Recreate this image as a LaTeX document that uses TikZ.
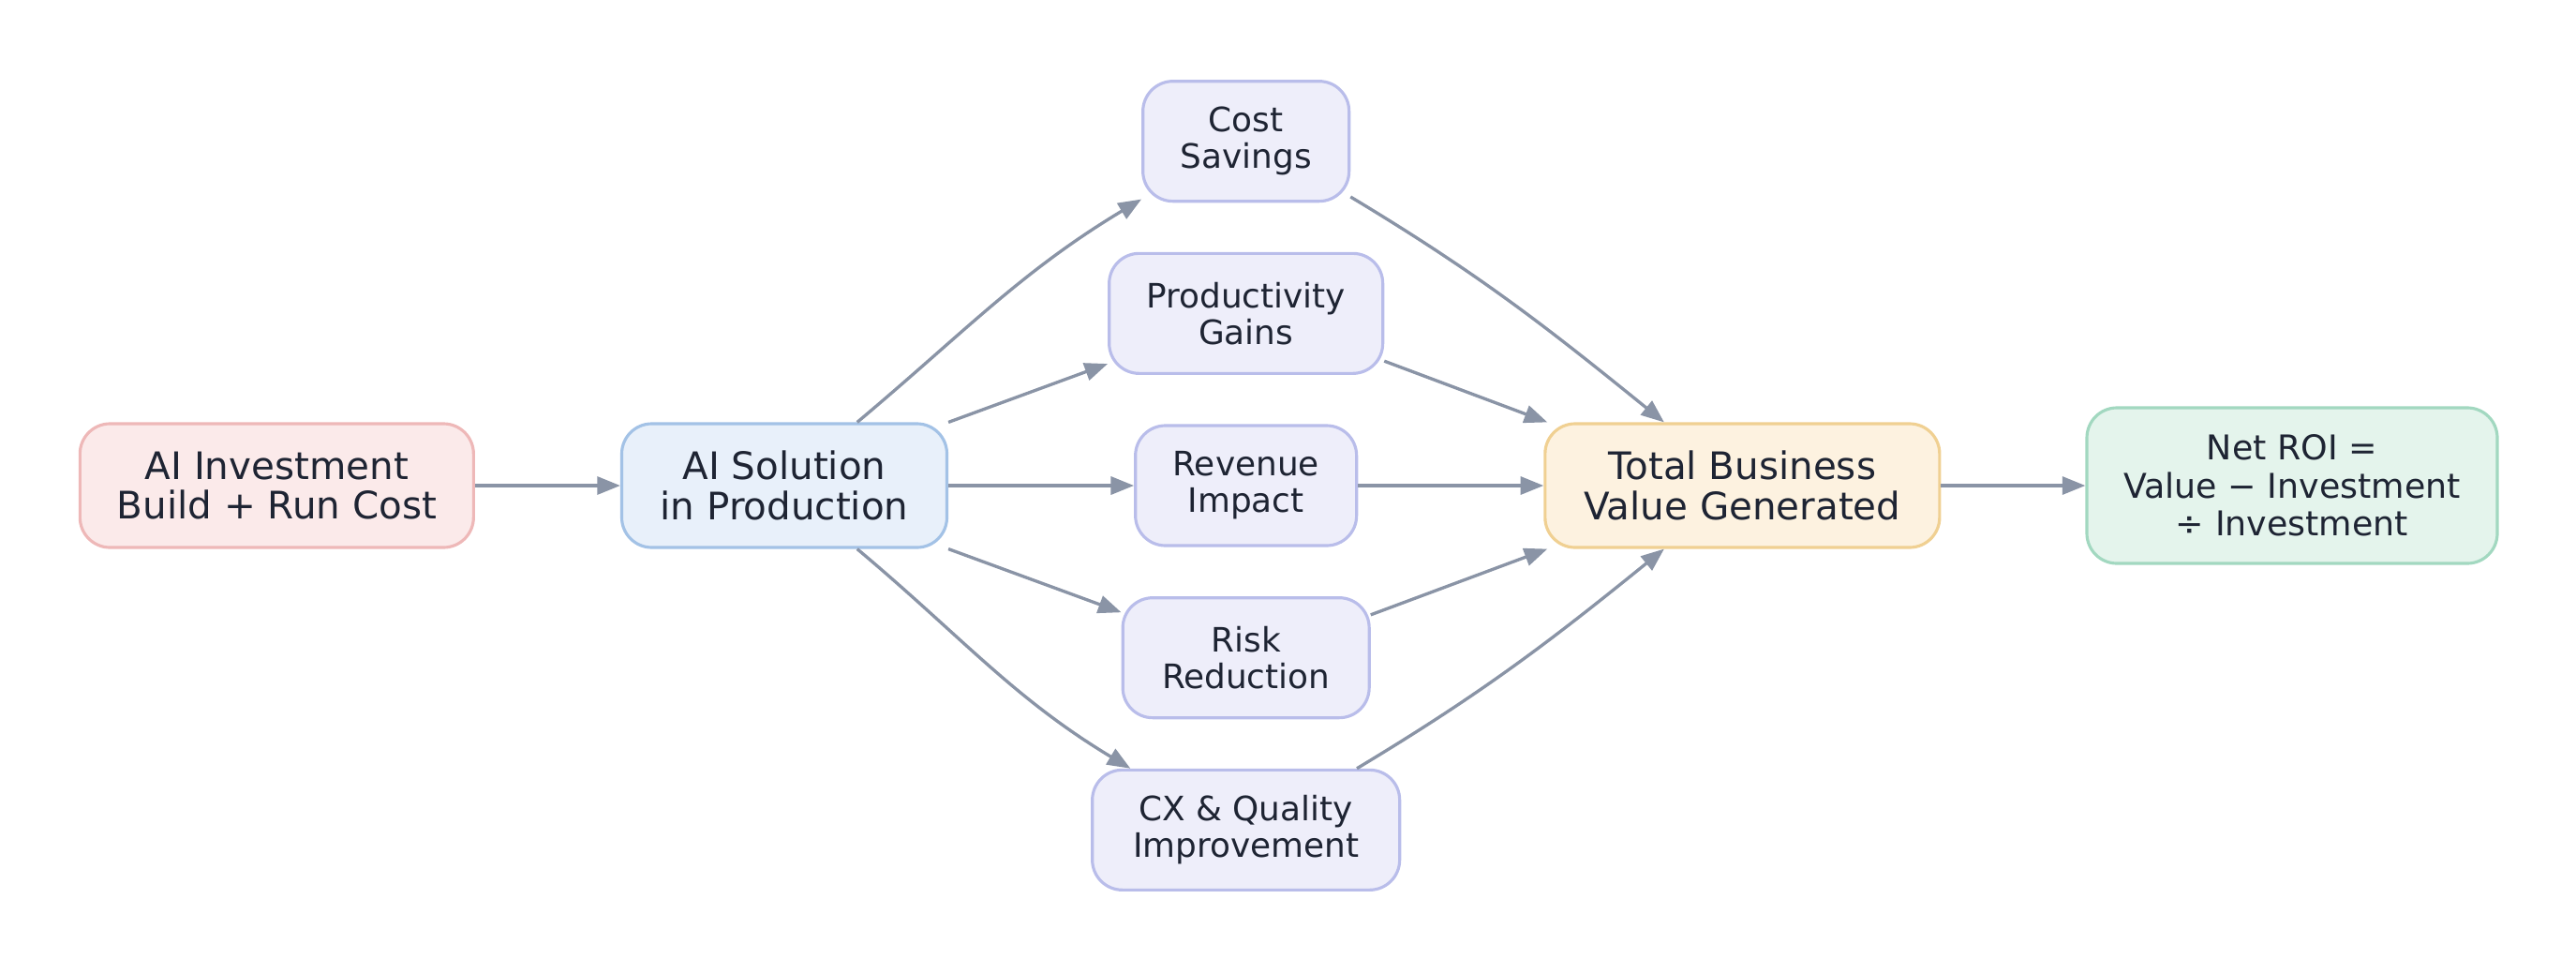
\documentclass[tikz,border=0pt]{standalone}
\usepackage{fontspec}
\setmainfont{DejaVu Sans}
\usepackage{xcolor}
\usepackage{tikz}
\usetikzlibrary{arrows.meta, positioning}

\definecolor{inkc}{HTML}{1E2433}
\definecolor{edgec}{HTML}{8A94A6}
\definecolor{invfill}{HTML}{FBEAEA}
\definecolor{invdraw}{HTML}{EEB8B8}
\definecolor{solfill}{HTML}{E8F0FA}
\definecolor{soldraw}{HTML}{A3C2E6}
\definecolor{gainfill}{HTML}{EEEEFA}
\definecolor{gaindraw}{HTML}{B9BDEA}
\definecolor{totfill}{HTML}{FDF2E0}
\definecolor{totdraw}{HTML}{F0D092}
\definecolor{roifill}{HTML}{E4F4EC}
\definecolor{roidraw}{HTML}{A2D8C0}

\begin{document}
\begin{tikzpicture}[
    node distance=0.525cm and 1.98cm,
    box/.style={draw, line width=0.9pt, rounded corners=0.32cm, align=center, inner sep=0pt, text=inkc},
    bigbox/.style={box, minimum height=1.32cm, font=\fontsize{11.5}{12.2}\selectfont},
    gain/.style={box, fill=gainfill, draw=gaindraw, minimum height=1.28cm, font=\fontsize{10.2}{11.1}\selectfont},
    flow/.style={-{Triangle[length=7pt, width=5.4pt]}, line width=0.95pt, draw=edgec}
]
\useasboundingbox (0,0) rectangle (27.49,10.38);

\node[bigbox, fill=solfill, draw=soldraw, minimum width=3.47cm] (sol) at (8.37,5.20) {AI Solution\\in Production};
\node[bigbox, fill=invfill, draw=invdraw, minimum width=4.2cm, left=1.55cm of sol] (inv) {AI Investment\\Build + Run Cost};

\node[gain, minimum width=2.36cm, right=of sol] (rev) {Revenue\\Impact};
\node[gain, minimum width=2.92cm, above=of rev] (prod) {Productivity\\Gains};
\node[gain, minimum width=2.2cm, above=of prod] (cost) {Cost\\Savings};
\node[gain, minimum width=2.63cm, below=of rev] (risk) {Risk\\Reduction};
\node[gain, minimum width=3.28cm, below=of risk] (cx) {CX \& Quality\\Improvement};

\node[bigbox, fill=totfill, draw=totdraw, minimum width=4.21cm, right=of rev] (tot) {Total Business\\Value Generated};
\node[box, fill=roifill, draw=roidraw, minimum width=4.38cm, minimum height=1.66cm,
      font=\fontsize{10.35}{11.5}\selectfont, right=1.54cm of tot] (roi) {Net ROI =\\Value − Investment\\÷ Investment};

\draw[flow] (inv) -- (sol);

% fan out
\draw[flow] (sol.41) to[out=40, in=211] (cost.209);
\draw[flow] (sol.north east) -- (prod.200);
\draw[flow] (sol) -- (rev);
\draw[flow] (sol.south east) -- (risk.160);
\draw[flow] (sol.-41) to[out=-40, in=149] (cx.152);

% fan in
\draw[flow] (cost.-28) to[out=-31, in=141] (tot.141);
\draw[flow] (prod.-19) -- (tot.162);
\draw[flow] (rev) -- (tot);
\draw[flow] (risk.19) -- (tot.198);
\draw[flow] (cx.29) to[out=31, in=219] (tot.219);

\draw[flow] (tot) -- (roi);
\end{tikzpicture}
\end{document}
